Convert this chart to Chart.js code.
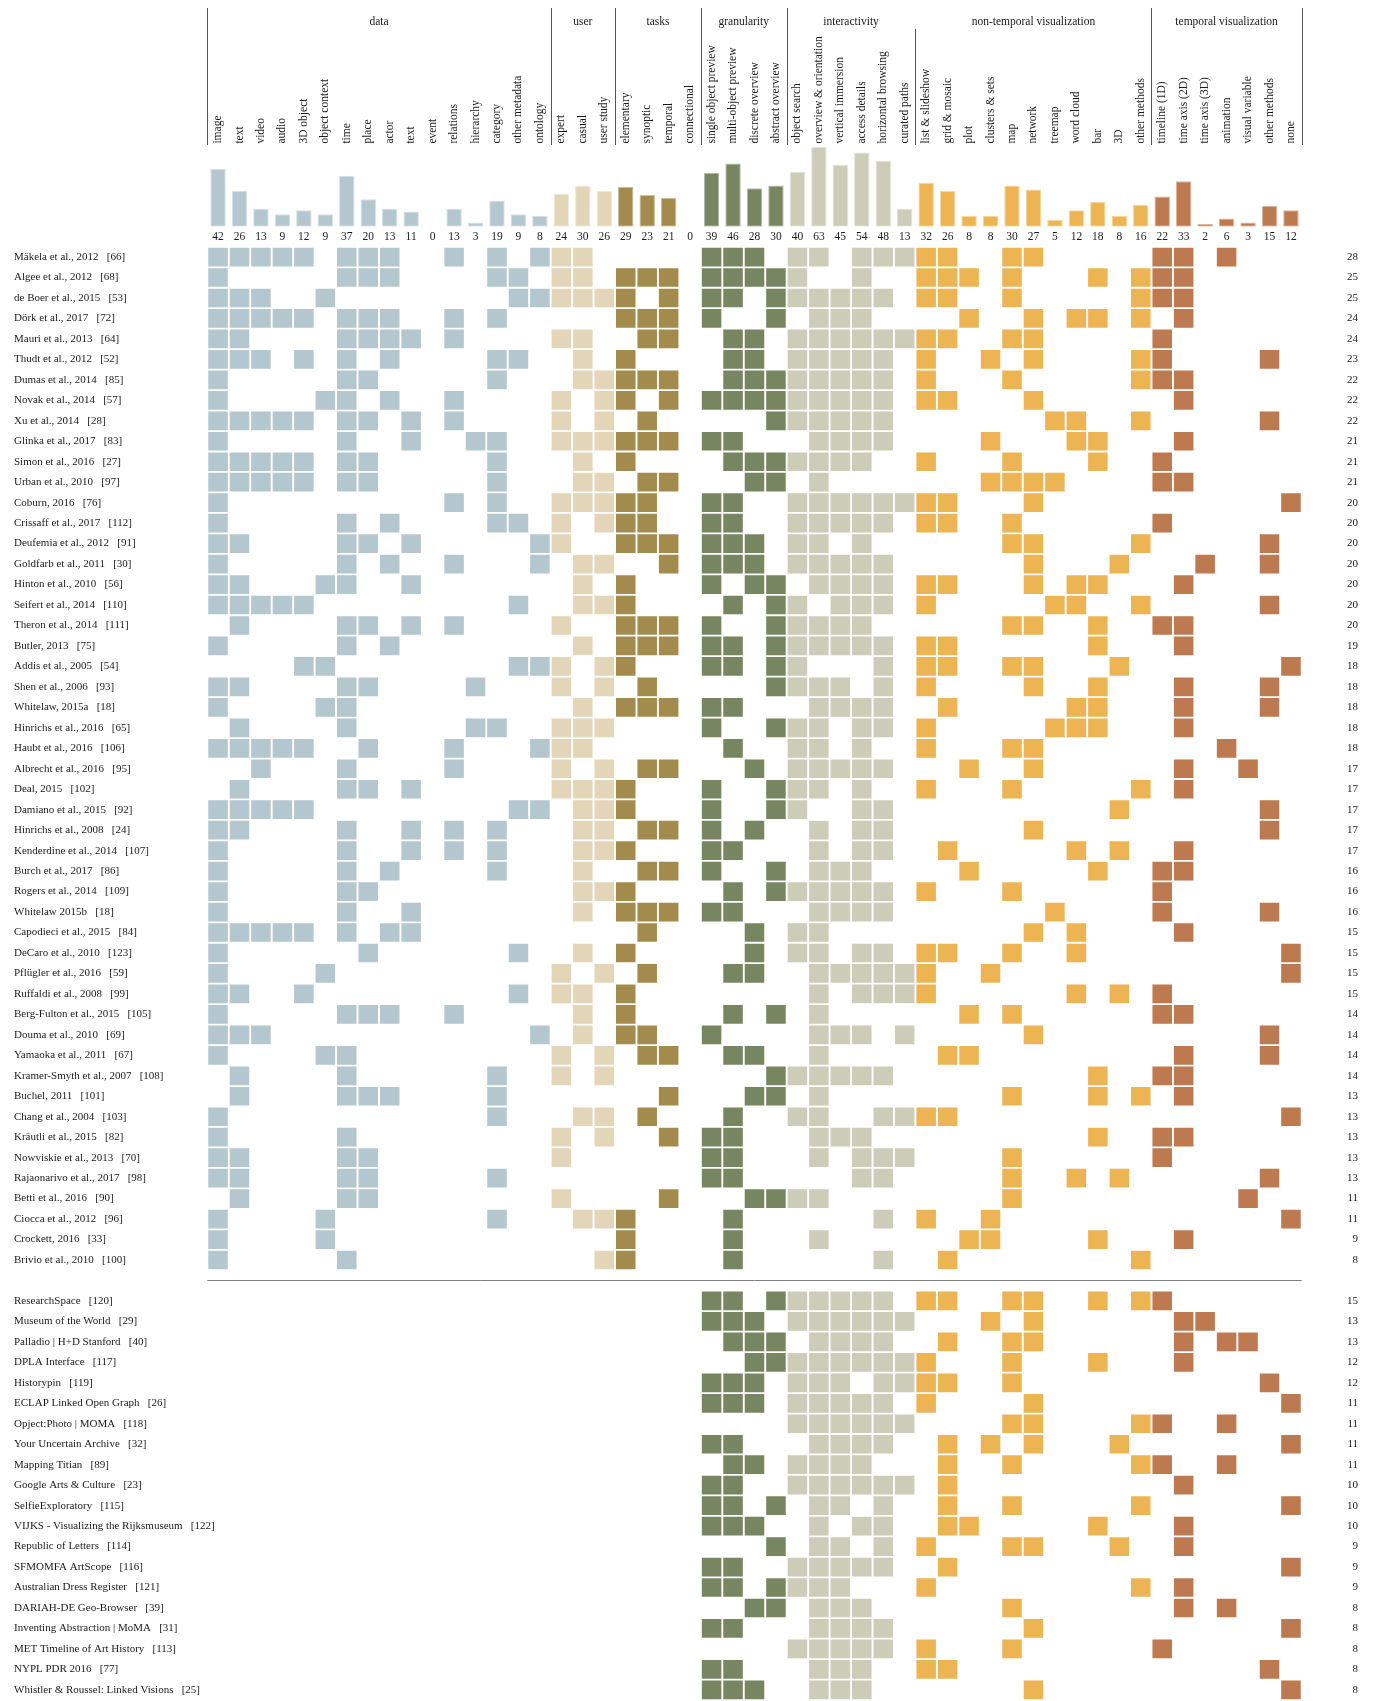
<!DOCTYPE html>
<html>
<head>
<meta charset="utf-8">
<script src="https://cdn.jsdelivr.net/npm/chart.js@4.4.0/dist/chart.umd.min.js"></script>
<style>
  html, body { margin: 0; padding: 0; background: #fff; overflow: hidden; }
  #wrap { position: relative; width: 1376px; height: 1701px; }
  canvas { position: absolute; left: 0; }
  #head { top: 0; }
  #grid { top: 246px; }
</style>
</head>
<body>
<div id="wrap">
  <canvas id="head" width="1376" height="246"></canvas>
  <canvas id="grid" width="1376" height="1455"></canvas>
</div>
<script>
// Columns of the survey matrix, left to right
const columns = ['image', 'text', 'video', 'audio', '3D object', 'object context', 'time', 'place', 'actor', 'text',
  'event', 'relations', 'hierarchy', 'category', 'other metadata', 'ontology',
  'expert', 'casual', 'user study',
  'elementary', 'synoptic', 'temporal', 'connectional',
  'single object preview', 'multi-object preview', 'discrete overview', 'abstract overview',
  'object search', 'overview & orientation', 'vertical immersion', 'access details', 'horizontal browsing', 'curated paths',
  'list & slideshow', 'grid & mosaic', 'plot', 'clusters & sets', 'map', 'network', 'treemap', 'word cloud', 'bar', '3D', 'other methods',
  'timeline (1D)', 'time axis (2D)', 'time axis (3D)', 'animation', 'visual variable', 'other methods', 'none'];
const groupNames = ['data', 'user', 'tasks', 'granularity', 'interactivity', 'non-temporal visualization', 'temporal visualization'];
const groupSizes = [16, 3, 4, 4, 6, 11, 7];
const groupColors = ['#b4c6ce', '#e3d6b8', '#a38b4e', '#778560', '#cccdb8', '#edb453', '#bd794f'];

// Column totals (bars on top)
const counts = [42, 26, 13, 9, 12, 9, 37, 20, 13, 11, 0, 13, 3, 19, 9, 8,
  24, 30, 26, 29, 23, 21, 0, 39, 46, 28, 30,
  40, 63, 45, 54, 48, 13,
  32, 26, 8, 8, 30, 27, 5, 12, 18, 8, 16,
  22, 33, 2, 6, 3, 15, 12];

// Research papers
const papers = ['Mäkela et al., 2012   [66]', 'Algee et al., 2012   [68]', 'de Boer et al., 2015   [53]', 'Dörk et al., 2017   [72]',
  'Mauri et al., 2013   [64]', 'Thudt et al., 2012   [52]', 'Dumas et al., 2014   [85]', 'Novak et al., 2014   [57]',
  'Xu et al., 2014   [28]', 'Glinka et al., 2017   [83]', 'Simon et al., 2016   [27]', 'Urban et al., 2010   [97]',
  'Coburn, 2016   [76]', 'Crissaff et al., 2017   [112]', 'Deufemia et al., 2012   [91]', 'Goldfarb et al., 2011   [30]',
  'Hinton et al., 2010   [56]', 'Seifert et al., 2014   [110]', 'Theron et al., 2014   [111]', 'Butler, 2013   [75]',
  'Addis et al., 2005   [54]', 'Shen et al., 2006   [93]', 'Whitelaw, 2015a   [18]', 'Hinrichs et al., 2016   [65]',
  'Haubt et al., 2016   [106]', 'Albrecht et al., 2016   [95]', 'Deal, 2015   [102]', 'Damiano et al., 2015   [92]',
  'Hinrichs et al., 2008   [24]', 'Kenderdine et al., 2014   [107]', 'Burch et al., 2017   [86]', 'Rogers et al., 2014   [109]',
  'Whitelaw 2015b   [18]', 'Capodieci et al., 2015   [84]', 'DeCaro et al., 2010   [123]', 'Pflügler et al., 2016   [59]',
  'Ruffaldi et al., 2008   [99]', 'Berg-Fulton et al., 2015   [105]', 'Douma et al., 2010   [69]', 'Yamaoka et al., 2011   [67]',
  'Kramer-Smyth et al., 2007   [108]', 'Buchel, 2011   [101]', 'Chang et al., 2004   [103]', 'Kräutli et al., 2015   [82]',
  'Nowviskie et al., 2013   [70]', 'Rajaonarivo et al., 2017   [98]', 'Betti et al., 2016   [90]', 'Ciocca et al., 2012   [96]',
  'Crockett, 2016   [33]', 'Brivio et al., 2010   [100]'];
const paperTotals = [28, 25, 25, 24, 24, 23, 22, 22, 22, 21, 21, 21, 20, 20, 20, 20, 20, 20, 20, 19,
  18, 18, 18, 18, 18, 17, 17, 17, 17, 17, 16, 16, 16, 15, 15, 15, 15, 14, 14, 14,
  14, 13, 13, 13, 13, 13, 11, 11, 9, 8];
// filled column indices per paper
const paperCells = [
  [0,1,2,3,4,6,7,8,11,13,15,16,17,23,24,25,27,28,30,31,32,33,34,37,38,44,45,47],
  [0,6,7,8,13,14,16,17,19,20,21,23,24,25,26,27,30,33,34,35,37,41,43,44,45],
  [0,1,2,5,14,15,16,17,18,19,21,23,24,26,27,28,29,30,31,33,34,37,43,44,45],
  [0,1,2,3,4,6,7,8,11,13,19,20,21,23,26,28,29,30,35,38,40,41,43,45],
  [0,1,6,7,8,9,11,16,17,20,21,24,25,27,28,29,30,31,32,33,34,37,38,44],
  [0,1,2,4,6,8,13,14,17,19,24,25,27,28,29,30,31,33,36,38,43,44,49],
  [0,6,7,13,17,18,19,20,21,24,25,26,27,28,29,30,31,33,37,43,44,45],
  [0,5,6,8,11,16,18,19,21,23,24,25,26,27,28,29,30,31,33,34,38,45],
  [0,1,2,3,4,6,7,9,11,16,18,20,26,27,28,29,30,31,39,40,43,49],
  [0,6,9,12,13,16,17,18,19,20,21,23,24,28,29,30,31,36,40,41,45],
  [0,1,2,3,4,6,7,13,17,19,24,25,26,27,28,29,30,33,37,41,44],
  [0,1,2,3,4,6,7,13,17,18,20,21,25,26,28,36,37,38,39,44,45],
  [0,11,13,16,17,18,19,20,23,24,27,28,29,30,31,32,33,34,38,50],
  [0,6,8,13,14,16,18,19,20,23,24,27,28,29,30,31,33,34,37,44],
  [0,1,6,7,9,15,16,19,20,21,23,24,25,27,28,30,37,38,43,49],
  [0,6,8,11,15,17,18,21,23,24,25,27,28,29,30,31,38,42,46,49],
  [0,1,5,6,9,17,19,23,25,26,28,29,30,31,33,34,38,40,41,45],
  [0,1,2,3,4,14,17,18,19,24,26,27,29,30,31,33,39,40,43,49],
  [1,6,7,9,11,16,19,20,21,23,26,27,28,29,30,37,38,41,44,45],
  [0,6,8,17,19,20,21,23,24,26,27,28,29,30,31,33,34,41,45],
  [4,5,14,15,16,18,19,23,24,26,27,31,33,34,37,38,42,50],
  [0,1,6,7,12,16,18,20,26,27,28,29,31,33,38,41,45,49],
  [0,5,6,17,19,20,21,23,24,28,29,30,31,34,40,41,45,49],
  [1,6,12,13,16,17,18,23,26,27,28,30,31,33,39,40,41,45],
  [0,1,2,3,4,7,11,15,16,17,24,27,28,30,33,37,38,47],
  [2,6,11,16,18,20,21,25,27,28,29,30,31,35,38,45,48],
  [1,6,7,9,16,17,18,19,23,26,27,28,30,33,37,43,45],
  [0,1,2,3,4,14,15,17,18,19,23,26,27,30,31,42,49],
  [0,1,6,9,11,13,17,18,20,21,23,25,28,30,31,38,49],
  [0,6,9,11,13,17,18,19,23,24,28,30,31,34,40,42,45],
  [0,6,8,13,17,20,21,23,26,28,29,30,35,41,44,45],
  [0,6,7,17,18,19,24,26,27,28,29,30,31,33,37,44],
  [0,6,9,17,19,20,21,23,24,28,29,30,31,39,44,49],
  [0,1,2,3,4,6,8,9,20,25,27,28,38,40,45],
  [0,7,14,17,19,25,27,28,30,31,33,34,37,40,50],
  [0,5,16,18,20,24,25,28,29,30,31,32,33,36,50],
  [0,1,4,14,16,17,19,28,30,31,32,33,40,42,44],
  [0,6,7,8,11,17,19,24,26,28,35,37,44,45],
  [0,1,2,15,17,19,20,23,28,29,30,32,38,49],
  [0,5,6,16,18,20,21,24,25,28,34,35,45,49],
  [1,6,13,16,18,26,27,28,29,30,31,41,44,45],
  [1,6,7,8,13,21,25,26,28,37,41,43,45],
  [0,13,17,18,20,24,27,28,31,32,33,34,50],
  [0,6,16,18,21,23,24,28,29,30,41,44,45],
  [0,1,6,7,16,23,24,28,30,31,32,37,44],
  [0,1,6,7,13,23,24,30,31,37,40,42,49],
  [1,6,7,16,21,25,26,27,28,37,48],
  [0,5,13,17,18,19,24,31,33,36,50],
  [0,5,19,24,28,35,36,41,45],
  [0,6,18,19,24,31,34,43]
];

// Online tools
const tools = ['ResearchSpace   [120]', 'Museum of the World   [29]', 'Palladio | H+D Stanford   [40]', 'DPLA Interface   [117]',
  'Historypin   [119]', 'ECLAP Linked Open Graph   [26]', 'Opject:Photo | MOMA   [118]', 'Your Uncertain Archive   [32]',
  'Mapping Titian   [89]', 'Google Arts & Culture   [23]', 'SelfieExploratory   [115]', 'VIJKS - Visualizing the Rijksmuseum   [122]',
  'Republic of Letters   [114]', 'SFMOMFA ArtScope   [116]', 'Australian Dress Register   [121]', 'DARIAH-DE Geo-Browser   [39]',
  'Inventing Abstraction | MoMA   [31]', 'MET Timeline of Art History   [113]', 'NYPL PDR 2016   [77]', 'Whistler & Roussel: Linked Visions   [25]'];
const toolTotals = [15, 13, 13, 12, 12, 11, 11, 11, 11, 10, 10, 10, 9, 9, 9, 8, 8, 8, 8, 8];
const toolCells = [
  [23,24,26,27,28,29,30,31,33,34,37,38,41,43,44],
  [23,24,25,27,28,29,30,31,32,36,38,45,46],
  [24,25,26,28,29,30,31,34,37,38,45,47,48],
  [25,26,27,28,29,30,31,32,33,37,41,45],
  [23,24,25,27,28,29,31,32,33,34,37,49],
  [23,24,25,27,28,29,30,31,33,38,50],
  [27,28,29,30,31,32,37,38,43,44,47],
  [23,24,28,29,30,31,34,36,38,42,50],
  [24,25,27,28,29,30,34,37,43,44,47],
  [23,24,27,28,29,30,31,32,34,45],
  [23,24,26,28,29,31,34,37,43,50],
  [23,24,25,28,30,31,34,35,41,45],
  [26,28,29,31,33,37,38,42,45],
  [23,24,27,28,29,30,31,34,50],
  [23,24,26,27,28,29,33,43,45],
  [25,26,28,29,30,37,45,47],
  [23,24,28,29,30,31,38,50],
  [27,28,29,30,31,33,37,44],
  [23,24,28,29,30,33,34,49],
  [23,24,25,28,29,30,38,50]
];

// which group each column belongs to
const groupOf = [];
groupSizes.forEach((n, g) => { for (let i = 0; i < n; i++) groupOf.push(g); });

// rows: papers first, one empty row, then tools
const rowNames = {}, rowTotals = {}, rowCells = {};
papers.forEach((p, i) => { rowNames[i] = p; rowTotals[i] = paperTotals[i]; rowCells[i] = paperCells[i]; });
tools.forEach((t, i) => {
  const r = papers.length + 1 + i;
  rowNames[r] = t; rowTotals[r] = toolTotals[i]; rowCells[r] = toolCells[i];
});
const rowIds = Object.keys(rowNames).map(Number);
const lastRow = papers.length + tools.length;

const serif = "'Liberation Serif', 'Times New Roman', serif";
Chart.defaults.font.family = serif;
Chart.defaults.color = '#1a1a1a';

const colTicks = scale => { scale.ticks = columns.map((c, i) => ({value: i})); };
const rowTicks = scale => { scale.ticks = rowIds.map(r => ({value: r})); };

function lighten(hex, f) {
  const n = parseInt(hex.slice(1), 16);
  const ch = [n >> 16, (n >> 8) & 255, n & 255].map(v => Math.round(v + (255 - v) * f));
  return 'rgb(' + ch.join(',') + ')';
}

// group titles and separators above the column labels
const headerPlugin = {
  id: 'groupHeaders',
  afterDraw(chart) {
    const {ctx} = chart;
    const x = chart.scales.x;
    ctx.save();
    ctx.strokeStyle = '#555';
    ctx.lineWidth = 1;
    ctx.fillStyle = '#1a1a1a';
    ctx.font = '11.5px ' + serif;
    ctx.textAlign = 'center';
    ctx.textBaseline = 'middle';
    let start = 0;
    groupSizes.forEach((n, g) => {
      const px = Math.round(x.getPixelForValue(start - 0.5)) + 0.5;
      ctx.beginPath();
      ctx.moveTo(px, g === 5 ? 29 : 8);
      ctx.lineTo(px, 145);
      ctx.stroke();
      ctx.fillText(groupNames[g], x.getPixelForValue(start + (n - 1) / 2), 21.5);
      start += n;
    });
    const end = Math.round(x.getPixelForValue(start - 0.5)) + 0.5;
    ctx.beginPath();
    ctx.moveTo(end, 8);
    ctx.lineTo(end, 145);
    ctx.stroke();
    ctx.restore();
  }
};

new Chart(document.getElementById('head'), {
  type: 'bar',
  data: {
    datasets: [{
      data: counts.map((v, i) => ({x: i, y: v})),
      backgroundColor: ctx => groupColors[groupOf[ctx.dataIndex]],
      borderColor: ctx => lighten(groupColors[groupOf[ctx.dataIndex]], 0.45),
      borderWidth: ctx => counts[ctx.dataIndex] > 0 ? 1 : 0,
      borderSkipped: false,
      barPercentage: 0.72,
      categoryPercentage: 1
    }]
  },
  options: {
    responsive: false,
    animation: false,
    events: [],
    layout: {padding: {left: 207.3, right: 74.3, top: 0, bottom: 0}},
    plugins: {legend: {display: false}, tooltip: {enabled: false}},
    scales: {
      x: {
        type: 'linear', position: 'top', min: -0.5, max: 50.5, offset: false,
        afterBuildTicks: colTicks,
        afterFit: s => { s.height = 147.6; s.paddingLeft = 0; s.paddingRight = 0; },
        grid: {display: false, drawTicks: false},
        border: {display: false},
        ticks: {
          autoSkip: false, minRotation: 90, maxRotation: 90, padding: 4, labelOffset: 11.5,
          font: {size: 11.5, lineHeight: 1},
          callback: v => columns[v]
        }
      },
      xc: {
        type: 'linear', position: 'bottom', min: -0.5, max: 50.5, offset: false,
        afterBuildTicks: colTicks,
        afterFit: s => { s.height = 19.3; s.paddingLeft = 0; s.paddingRight = 0; },
        grid: {display: false, drawTicks: false},
        border: {display: false},
        ticks: {autoSkip: false, minRotation: 0, maxRotation: 0, padding: 2.9, font: {size: 11.5}, callback: v => counts[v]}
      },
      y: {display: false, min: 0, max: 57.5}
    }
  },
  plugins: [headerPlugin]
});

// line between papers and tools
const separatorPlugin = {
  id: 'separator',
  afterDatasetsDraw(chart) {
    const {ctx, chartArea} = chart;
    const py = Math.round(chart.scales.y.getPixelForValue(papers.length)) + 0.5;
    ctx.save();
    ctx.strokeStyle = '#808080';
    ctx.lineWidth = 1;
    ctx.beginPath();
    ctx.moveTo(chartArea.left, py);
    ctx.lineTo(chartArea.right, py);
    ctx.stroke();
    ctx.restore();
  }
};

const cellData = g => {
  const out = [];
  rowIds.forEach(r => rowCells[r].forEach(c => {
    if (groupOf[c] === g) out.push({x: c, y: [r - 0.4565, r + 0.4565]});
  }));
  return out;
};

const NAME_W = 193.3, TOTAL_W = 56.3;

new Chart(document.getElementById('grid'), {
  type: 'bar',
  data: {
    datasets: groupNames.map((name, g) => ({
      label: name,
      data: cellData(g),
      backgroundColor: groupColors[g],
      borderWidth: 0,
      grouped: false,
      barPercentage: 0.91,
      categoryPercentage: 1
    }))
  },
  options: {
    responsive: false,
    animation: false,
    events: [],
    layout: {padding: {left: 14, right: 18, top: 0.8, bottom: 0.9}},
    plugins: {legend: {display: false}, tooltip: {enabled: false}},
    scales: {
      x: {type: 'linear', display: false, offset: false, min: -0.5, max: 50.5, afterBuildTicks: colTicks},
      y: {
        type: 'linear', position: 'left', reverse: true, min: -0.5, max: lastRow + 0.5,
        afterBuildTicks: rowTicks,
        afterFit: s => { s.width = NAME_W; s.paddingTop = 0; s.paddingBottom = 0; },
        grid: {display: false, drawTicks: false},
        border: {display: false},
        // mirrored so long names may run past the axis box, as in the original
        ticks: {autoSkip: false, mirror: true, padding: -NAME_W, font: {size: 11}, callback: v => rowNames[v]}
      },
      y2: {
        type: 'linear', position: 'right', reverse: true, min: -0.5, max: lastRow + 0.5,
        afterBuildTicks: rowTicks,
        afterFit: s => { s.width = TOTAL_W; s.paddingTop = 0; s.paddingBottom = 0; },
        grid: {display: false, drawTicks: false},
        border: {display: false},
        ticks: {autoSkip: false, crossAlign: 'far', padding: 0, font: {size: 11}, callback: v => rowTotals[v]}
      }
    }
  },
  plugins: [separatorPlugin]
});
</script>
</body>
</html>
